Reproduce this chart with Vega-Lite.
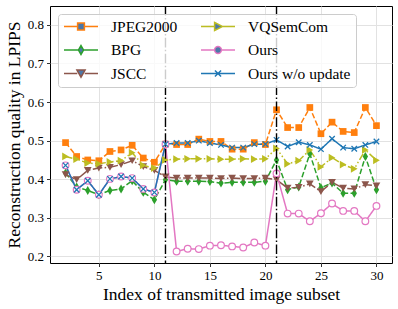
{
  "$schema": "https://vega.github.io/schema/vega-lite/v6.json",
  "width": 342,
  "height": 257,
  "autosize": {"type": "none"},
  "padding": {"left": 50, "top": 6, "right": 6, "bottom": 46},
  "config": {
    "font": "Liberation Serif",
    "view": {"stroke": "black", "strokeWidth": 1},
    "axis": {
      "domain": false, "grid": true, "gridColor": "#e2e2e2", "gridWidth": 1,
      "tickColor": "black", "tickSize": 3.5, "tickWidth": 0.8,
      "labelFont": "Liberation Serif", "labelFontSize": 13, "labelColor": "black",
      "titleFont": "Liberation Serif", "titleFontSize": 17.5, "titleFontWeight": "normal", "titleColor": "black"
    }
  },
  "data": {"values": [
    {"idx": 2, "JPEG2000": 0.495, "BPG": 0.416, "JSCC": 0.412, "VQSemCom": 0.459, "Ours": 0.436, "Ours w/o update": 0.436},
    {"idx": 3, "JPEG2000": 0.459, "BPG": 0.380, "JSCC": 0.399, "VQSemCom": 0.452, "Ours": 0.373, "Ours w/o update": 0.373},
    {"idx": 4, "JPEG2000": 0.450, "BPG": 0.371, "JSCC": 0.423, "VQSemCom": 0.442, "Ours": 0.396, "Ours w/o update": 0.396},
    {"idx": 5, "JPEG2000": 0.448, "BPG": 0.360, "JSCC": 0.429, "VQSemCom": 0.440, "Ours": 0.360, "Ours w/o update": 0.360},
    {"idx": 6, "JPEG2000": 0.472, "BPG": 0.371, "JSCC": 0.431, "VQSemCom": 0.445, "Ours": 0.401, "Ours w/o update": 0.401},
    {"idx": 7, "JPEG2000": 0.476, "BPG": 0.375, "JSCC": 0.438, "VQSemCom": 0.448, "Ours": 0.407, "Ours w/o update": 0.407},
    {"idx": 8, "JPEG2000": 0.488, "BPG": 0.396, "JSCC": 0.448, "VQSemCom": 0.469, "Ours": 0.403, "Ours w/o update": 0.403},
    {"idx": 9, "JPEG2000": 0.455, "BPG": 0.366, "JSCC": 0.433, "VQSemCom": 0.436, "Ours": 0.375, "Ours w/o update": 0.375},
    {"idx": 10, "JPEG2000": 0.444, "BPG": 0.347, "JSCC": 0.423, "VQSemCom": 0.429, "Ours": 0.366, "Ours w/o update": 0.366},
    {"idx": 11, "JPEG2000": 0.491, "BPG": 0.399, "JSCC": 0.406, "VQSemCom": 0.450, "Ours": 0.491, "Ours w/o update": 0.491},
    {"idx": 12, "JPEG2000": 0.490, "BPG": 0.395, "JSCC": 0.403, "VQSemCom": 0.452, "Ours": 0.213, "Ours w/o update": 0.494},
    {"idx": 13, "JPEG2000": 0.490, "BPG": 0.395, "JSCC": 0.403, "VQSemCom": 0.453, "Ours": 0.220, "Ours w/o update": 0.494},
    {"idx": 14, "JPEG2000": 0.504, "BPG": 0.395, "JSCC": 0.403, "VQSemCom": 0.453, "Ours": 0.219, "Ours w/o update": 0.500},
    {"idx": 15, "JPEG2000": 0.498, "BPG": 0.394, "JSCC": 0.403, "VQSemCom": 0.453, "Ours": 0.228, "Ours w/o update": 0.494},
    {"idx": 16, "JPEG2000": 0.498, "BPG": 0.390, "JSCC": 0.402, "VQSemCom": 0.452, "Ours": 0.229, "Ours w/o update": 0.489},
    {"idx": 17, "JPEG2000": 0.478, "BPG": 0.392, "JSCC": 0.403, "VQSemCom": 0.452, "Ours": 0.226, "Ours w/o update": 0.482},
    {"idx": 18, "JPEG2000": 0.478, "BPG": 0.392, "JSCC": 0.402, "VQSemCom": 0.453, "Ours": 0.223, "Ours w/o update": 0.482},
    {"idx": 19, "JPEG2000": 0.495, "BPG": 0.392, "JSCC": 0.402, "VQSemCom": 0.452, "Ours": 0.236, "Ours w/o update": 0.491},
    {"idx": 20, "JPEG2000": 0.490, "BPG": 0.395, "JSCC": 0.403, "VQSemCom": 0.453, "Ours": 0.228, "Ours w/o update": 0.491},
    {"idx": 21, "JPEG2000": 0.580, "BPG": 0.450, "JSCC": 0.399, "VQSemCom": 0.480, "Ours": 0.415, "Ours w/o update": 0.502},
    {"idx": 22, "JPEG2000": 0.534, "BPG": 0.373, "JSCC": 0.377, "VQSemCom": 0.440, "Ours": 0.311, "Ours w/o update": 0.485},
    {"idx": 23, "JPEG2000": 0.534, "BPG": 0.380, "JSCC": 0.379, "VQSemCom": 0.448, "Ours": 0.311, "Ours w/o update": 0.496},
    {"idx": 24, "JPEG2000": 0.586, "BPG": 0.466, "JSCC": 0.388, "VQSemCom": 0.476, "Ours": 0.291, "Ours w/o update": 0.489},
    {"idx": 25, "JPEG2000": 0.518, "BPG": 0.378, "JSCC": 0.368, "VQSemCom": 0.432, "Ours": 0.312, "Ours w/o update": 0.478},
    {"idx": 26, "JPEG2000": 0.548, "BPG": 0.390, "JSCC": 0.392, "VQSemCom": 0.456, "Ours": 0.337, "Ours w/o update": 0.505},
    {"idx": 27, "JPEG2000": 0.524, "BPG": 0.364, "JSCC": 0.377, "VQSemCom": 0.438, "Ours": 0.318, "Ours w/o update": 0.482},
    {"idx": 28, "JPEG2000": 0.521, "BPG": 0.364, "JSCC": 0.375, "VQSemCom": 0.427, "Ours": 0.318, "Ours w/o update": 0.479},
    {"idx": 29, "JPEG2000": 0.586, "BPG": 0.459, "JSCC": 0.386, "VQSemCom": 0.476, "Ours": 0.291, "Ours w/o update": 0.489},
    {"idx": 30, "JPEG2000": 0.539, "BPG": 0.373, "JSCC": 0.383, "VQSemCom": 0.449, "Ours": 0.331, "Ours w/o update": 0.498}
  ]},
  "transform": [{"fold": ["JPEG2000", "BPG", "JSCC", "VQSemCom", "Ours", "Ours w/o update"], "as": ["method", "lpips"]}],
  "layer": [
    {
      "mark": {"type": "line", "strokeWidth": 1.5},
      "encoding": {
        "x": {"field": "idx", "type": "quantitative", "scale": {"domain": [0.6, 31.4], "nice": false, "zero": false},
              "axis": {"values": [5, 10, 15, 20, 25, 30], "title": "Index of transmitted image subset", "labelPadding": 3, "titlePadding": 3}},
        "y": {"field": "lpips", "type": "quantitative", "scale": {"domain": [0.183, 0.849], "nice": false, "zero": false},
              "axis": {"values": [0.2, 0.3, 0.4, 0.5, 0.6, 0.7, 0.8], "format": ".1f", "title": "Reconstruction quality in LPIPS", "labelPadding": 3, "titlePadding": 4}},
        "color": {"field": "method", "type": "nominal", "legend": null,
                  "scale": {"domain": ["Ours w/o update", "Ours", "VQSemCom", "JSCC", "BPG", "JPEG2000"],
                            "range": ["#1f77b4", "#e377c2", "#bcbd22", "#8c564b", "#2ca02c", "#ff7f0e"]}},
        "strokeDash": {"field": "method", "type": "nominal", "legend": null,
                       "scale": {"domain": ["Ours w/o update", "Ours", "VQSemCom", "JSCC", "BPG", "JPEG2000"],
                                 "range": [[1, 0], [1, 0], [7, 2.4, 1.5, 2.4, 1.5, 2.4], [9.6, 2.4, 1.5, 2.4], [5.5, 2.4], [5.5, 2.4]]}}
      }
    },
    {
      "transform": [{"filter": "datum.method === 'JPEG2000'"}],
      "mark": {"type": "point", "shape": "square", "size": 45, "filled": true, "color": "#ff7f0e", "opacity": 1},
      "encoding": {"x": {"field": "idx", "type": "quantitative"}, "y": {"field": "lpips", "type": "quantitative"}}
    },
    {
      "transform": [{"filter": "datum.method === 'BPG'"}],
      "mark": {"type": "point", "shape": "M0,-1L0.6,0L0,1L-0.6,0Z", "size": 80, "filled": true, "color": "#2ca02c", "opacity": 1},
      "encoding": {"x": {"field": "idx", "type": "quantitative"}, "y": {"field": "lpips", "type": "quantitative"}}
    },
    {
      "transform": [{"filter": "datum.method === 'JSCC'"}],
      "mark": {"type": "point", "shape": "triangle-down", "size": 60, "filled": true, "color": "#8c564b", "opacity": 1},
      "encoding": {"x": {"field": "idx", "type": "quantitative"}, "y": {"field": "lpips", "type": "quantitative"}}
    },
    {
      "transform": [{"filter": "datum.method === 'VQSemCom'"}],
      "mark": {"type": "point", "shape": "triangle-right", "size": 60, "filled": true, "color": "#bcbd22", "opacity": 1},
      "encoding": {"x": {"field": "idx", "type": "quantitative"}, "y": {"field": "lpips", "type": "quantitative"}}
    },
    {
      "transform": [{"filter": "datum.method === 'Ours'"}],
      "mark": {"type": "point", "shape": "circle", "size": 45, "filled": false, "fill": "white", "fillOpacity": 1, "stroke": "#e377c2", "strokeWidth": 1.2, "opacity": 1},
      "encoding": {"x": {"field": "idx", "type": "quantitative"}, "y": {"field": "lpips", "type": "quantitative"}}
    },
    {
      "transform": [{"filter": "datum.method === 'Ours w/o update'"}],
      "mark": {"type": "point", "shape": "M-1,-1L1,1M-1,1L1,-1", "size": 30, "filled": false, "stroke": "#1f77b4", "strokeWidth": 1.3, "opacity": 1},
      "encoding": {"x": {"field": "idx", "type": "quantitative"}, "y": {"field": "lpips", "type": "quantitative"}}
    },
    {
      "data": {"values": [{"idx": 11}, {"idx": 21}]},
      "mark": {"type": "rule", "color": "black", "strokeWidth": 1.4, "strokeDash": [9.6, 2.4, 1.5, 2.4]},
      "encoding": {"x": {"field": "idx", "type": "quantitative"}}
    },
    {
      "mark": {"type": "point", "filled": true, "opacity": 0},
      "encoding": {
        "x": {"field": "idx", "type": "quantitative"},
        "y": {"field": "lpips", "type": "quantitative"},
        "stroke": {"field": "method", "type": "nominal",
                   "legend": {"title": null, "orient": "none", "legendX": 8, "legendY": 8, "columns": 2,
                              "labelFont": "Liberation Serif", "labelFontSize": 15.5, "labelColor": "black",
                              "symbolSize": 1156, "symbolStrokeWidth": 1.5, "clipHeight": 15, "symbolOpacity": 1,
                              "rowPadding": 7.5, "columnPadding": 22, "labelOffset": 12, "padding": 5,
                              "fillColor": "rgba(255,255,255,0.8)", "strokeColor": "#cccccc", "cornerRadius": 3,
                              "encode": {"symbols": {
                                "strokeDash": {"value": {"expr": "scale('strokeDash', datum.value)"}},
                                "fill": {"value": {"expr": "datum.value === 'Ours' ? '#ffffff' : scale('stroke', datum.value)"}},
                                "fillOpacity": {"value": 1},
                                "opacity": {"value": 1}}}},
                   "scale": {"domain": ["JPEG2000", "BPG", "JSCC", "VQSemCom", "Ours", "Ours w/o update"],
                             "range": ["#ff7f0e", "#2ca02c", "#8c564b", "#bcbd22", "#e377c2", "#1f77b4"]}},
        "shape": {"field": "method", "type": "nominal",
                  "scale": {"domain": ["JPEG2000", "BPG", "JSCC", "VQSemCom", "Ours", "Ours w/o update"],
                            "range": [
                              "M-1,0H-0.22M0.22,0H1M-0.2,-0.2H0.2V0.2H-0.2Z",
                              "M-1,0H-0.16M0.16,0H1M0,-0.26L0.15,0L0,0.26L-0.15,0Z",
                              "M-1,0H-0.22M0.22,0H1M-0.24,-0.2L0.24,-0.2L0,0.22Z",
                              "M-1,0H-0.22M0.22,0H1M-0.2,-0.24L0.26,0L-0.2,0.24Z",
                              "M-1,0H-0.2M0.2,0H1M0.2,0A0.2,0.2,0,1,1,-0.2,0A0.2,0.2,0,1,1,0.2,0Z",
                              "M-1,0H1M-0.18,-0.18L0.18,0.18M-0.18,0.18L0.18,-0.18"
                            ]}}
      }
    }
  ]
}
